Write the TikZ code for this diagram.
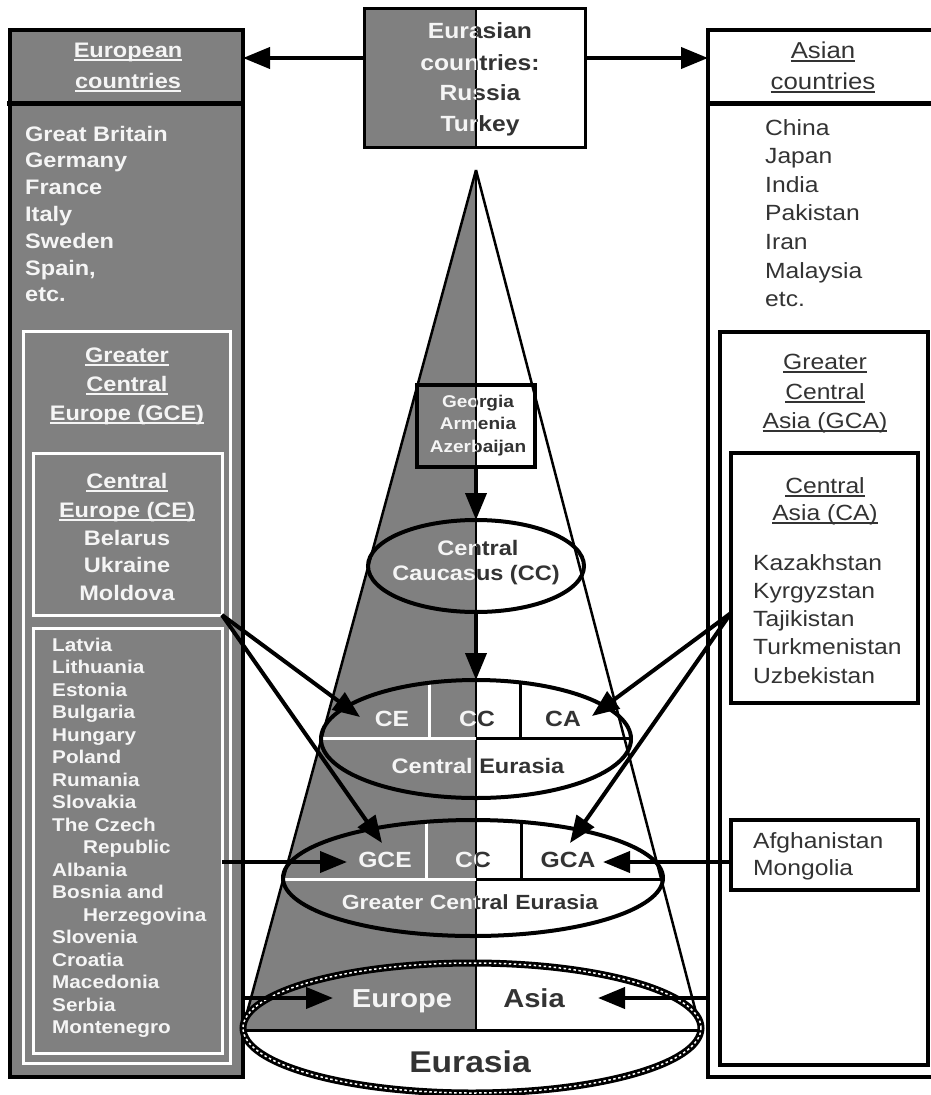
\documentclass[tikz,border=0pt]{standalone}
\usepackage{fontspec}
\setmainfont{Liberation Sans}[FakeStretch=1.12]
\usetikzlibrary{arrows.meta,shapes.geometric}
\definecolor{fillg}{gray}{0.5}
\definecolor{tw}{gray}{0.96}
\definecolor{td}{gray}{0.2}
\newcommand\ulx[1]{\setbox0\hbox{#1}\rlap{\rule[-3.8pt]{\wd0}{1.7pt}}\box0}
\newcommand\fB[1]{\bfseries\fontsize{#1}{#1}\selectfont}
\newcommand\fR[1]{\fontsize{#1}{#1}\selectfont}
\newcommand\splt[5]{%
 \begin{scope}\clip (0,0) rectangle (476,1095);
 \node[inner sep=0pt, anchor=base, text=tw, font={#4}] (#1w) at (#2,#3) {#5};\end{scope}
 \begin{scope}\clip (476,0) rectangle (930,1095);
 \node[inner sep=0pt, anchor=base, text=td, font={#4}] (#1d) at (#2,#3) {#5};\end{scope}}
\begin{document}
\begin{tikzpicture}[x=1pt,y=-1pt, line join=miter,
 box/.style={draw, line width=4pt, inner sep=0pt, outer sep=0pt, anchor=north west},
 wbox/.style={draw=white, line width=3pt, inner sep=0pt, outer sep=0pt, anchor=north west},
 ell/.style={ellipse, draw, line width=4pt, inner sep=0pt, outer sep=0pt},
 arr/.style={line width=4pt, -{Triangle[length=27pt,width=21pt]}},
 lw/.style={inner sep=0pt, text=tw, font=\fB{21}},
 ld/.style={inner sep=0pt, text=td, font=\fR{22}},
]
\fill[white] (0,0) rectangle (930,1095);
\useasboundingbox (0,0) rectangle (930,1095);
\coordinate (y58) at (0,58);
\coordinate (y613) at (0,613);
\coordinate (y862) at (0,862);
\coordinate (y998) at (0,998);

% left boxes
\node[box, fill=fillg, minimum width=233pt, minimum height=1047pt] (eur) at (10,30) {};
\draw[line width=5pt] (7,103) -- (243,103);
\node[wbox, minimum width=207pt, minimum height=732pt] (gceb) at (23,331) {};
\node[wbox, minimum width=189pt, minimum height=162pt] (ceb) at (33,453) {};
\node[wbox, minimum width=189pt, minimum height=425pt] (lst) at (33,628) {};

% right boxes
\node[box, fill=white, minimum width=235pt, minimum height=1047pt] (asi) at (708,30) {};
\draw[line width=5pt] (708,103) -- (940,103);
\node[box, minimum width=208pt, minimum height=733pt] (gcab) at (720,332) {};
\node[box, minimum width=187pt, minimum height=250pt] (cab) at (731,453) {};
\node[box, minimum width=187pt, minimum height=70pt] (afg) at (731,820) {};

% cone
\fill[fillg] (476,170) -- (242,1030) -- (476,1030) -- cycle;

% top box
\fill[fillg] (364,8) rectangle (476,147);
\node[box, line width=3pt, minimum width=221pt, minimum height=139pt] (eura) at (364,8) {};
\draw[line width=2.5pt] (476,8) -- (476,147);

% georgia box fill
\fill[fillg] (417,385) rectangle (476,467);
\fill[white] (476,385) rectangle (535,467);

% cone lines
\draw[line width=2.5pt] (476,170) -- (245,1020);
\draw[line width=2.5pt] (476,170) -- (698,1020);
\draw[line width=2.5pt] (476,170) -- (476,1030);

% dividers in Central Eurasia
\begin{scope}
\clip (476,739) ellipse [x radius=155pt, y radius=59pt];
\draw[white, line width=3pt] (429,670) -- (429,738);
\draw[line width=3pt] (520,670) -- (520,738);
\draw[white, line width=3pt] (300,738) -- (476,738);
\draw[line width=3pt] (476,738) -- (650,738);
\end{scope}
% dividers in Greater Central Eurasia
\begin{scope}
\clip (473,878) ellipse [x radius=190pt, y radius=58pt];
\draw[white, line width=3pt] (426,810) -- (426,879);
\draw[line width=3pt] (521,810) -- (521,879);
\draw[white, line width=3pt] (270,879) -- (476,879);
\draw[line width=3pt] (476,879) -- (680,879);
\end{scope}
\begin{scope}
\clip (472,1028) ellipse [x radius=229pt, y radius=65pt];
\draw[line width=3pt] (230,1030) -- (710,1030);
\end{scope}

% ellipses
\node[ell, minimum width=216pt, minimum height=92pt] (cc) at (476,566) {};
\node[ell, minimum width=310pt, minimum height=118pt] (ceu) at (476,739) {};
\node[ell, minimum width=380pt, minimum height=116pt] (gce) at (473,878) {};
\node[ell, line width=7pt, minimum width=458pt, minimum height=130pt] (eua) at (472,1028) {};
\draw[white, line width=1.5pt, dash pattern=on 2.5pt off 2.5pt] (472,1028) ellipse [x radius=229pt, y radius=65pt];

% georgia box
\node[box, minimum width=118pt, minimum height=82pt] (geo) at (417,385) {};

% target coordinates
\coordinate (tCE) at (360,717);
\coordinate (tGCE) at (382,843);
\coordinate (tCA) at (592,716);
\coordinate (tGCA) at (570,843);
\coordinate (tGCEh) at (347,862);
\coordinate (tGCAh) at (603,862);
\coordinate (tEu) at (333,998);
\coordinate (tAs) at (598,998);

% arrows
\draw[arr] (eura.west |- y58) -- (eur.east |- y58);
\draw[arr] (eura.east |- y58) -- (asi.west |- y58);
\draw[arr] (geo.south) -- (cc.north);
\draw[arr] (cc.south) -- (ceu.north);
\draw[arr] (ceb.south east) -- (tCE);
\draw[arr] (ceb.south east) -- (tGCE);
\draw[arr] (cab.west |- y613) -- (tCA);
\draw[arr] (cab.west |- y613) -- (tGCA);
\draw[arr] (lst.east |- y862) -- (tGCEh);
\draw[arr] (afg.west |- y862) -- (tGCAh);
\draw[arr] (eur.east |- y998) -- (tEu);
\draw[arr] (asi.west |- y998) -- (tAs);

% left texts
\node[lw, anchor=base] (eh1) at (128,57) {\ulx{European}};
\node[lw, anchor=base] (eh2) at (128,88) {\ulx{countries}};
\foreach \t [count=\i from 0] in {Great Britain,Germany,France,Italy,Sweden,{Spain,},etc.}
  \node[lw, anchor=base west] (eu\i) at (25,141+26.8*\i) {\t};
\node[lw, anchor=base] (g1) at (127,362) {\ulx{Greater}};
\node[lw, anchor=base] (g2) at (127,391) {\ulx{Central}};
\node[lw, anchor=base] (g3) at (127,420) {\ulx{Europe (GCE)}};
\node[lw, anchor=base] (c1) at (127,488) {\ulx{Central}};
\node[lw, anchor=base] (c2) at (127,517) {\ulx{Europe (CE)}};
\node[lw, anchor=base] (c3) at (127,545) {Belarus};
\node[lw, anchor=base] (c4) at (127,572) {Ukraine};
\node[lw, anchor=base] (c5) at (127,600) {Moldova};
\foreach \t/\dx [count=\i from 0] in {Latvia/0,Lithuania/0,Estonia/0,Bulgaria/0,Hungary/0,Poland/0,Rumania/0,Slovakia/0,The Czech/0,Republic/31,Albania/0,Bosnia and/0,Herzegovina/31,Slovenia/0,Croatia/0,Macedonia/0,Serbia/0,Montenegro/0}
  \node[lw, font=\fB{18.5}, anchor=base west] (ls\i) at (52+\dx,651+22.5*\i) {\t};

% right texts
\node[ld, font=\fR{23}, anchor=base] (ah1) at (823,58) {\ulx{Asian}};
\node[ld, font=\fR{23}, anchor=base] (ah2) at (823,89) {\ulx{countries}};
\foreach \t [count=\i from 0] in {China,Japan,India,Pakistan,Iran,Malaysia,etc.}
  \node[ld, anchor=base west] (as\i) at (765,135+28.6*\i) {\t};
\node[ld, anchor=base] (ga1) at (825,369) {\ulx{Greater}};
\node[ld, anchor=base] (ga2) at (825,399) {\ulx{Central}};
\node[ld, anchor=base] (ga3) at (825,428) {\ulx{Asia (GCA)}};
\node[ld, anchor=base] (ca1) at (825,493) {\ulx{Central}};
\node[ld, anchor=base] (ca2) at (825,520) {\ulx{Asia (CA)}};
\foreach \t [count=\i from 0] in {Kazakhstan,Kyrgyzstan,Tajikistan,Turkmenistan,Uzbekistan}
  \node[ld, anchor=base west] (ct\i) at (753,570+28.3*\i) {\t};
\node[ld, anchor=base west] (af1) at (753,848) {Afghanistan};
\node[ld, anchor=base west] (af2) at (753,875) {Mongolia};

% center texts
\splt{e1}{480}{38}{\fB{22}}{Eurasian}
\splt{e2}{480}{70}{\fB{22}}{countries:}
\splt{e3}{480}{100}{\fB{22}}{Russia}
\splt{e4}{480}{131}{\fB{22}}{Turkey}
\splt{ge1}{478}{407}{\fB{17}}{Georgia}
\splt{ge2}{478}{429}{\fB{17}}{Armenia}
\splt{ge3}{478}{452}{\fB{17}}{Azerbaijan}
\splt{cc1}{478}{555}{\fB{21}}{Central}
\splt{cc2}{476}{580}{\fB{21}}{Caucasus (CC)}
\splt{r1}{392}{726}{\fB{22}}{CE}
\splt{r2}{477}{726}{\fB{22}}{CC}
\splt{r3}{563}{726}{\fB{22}}{CA}
\splt{r4}{478}{773}{\fB{21}}{Central Eurasia}
\splt{s1}{385}{867}{\fB{22}}{GCE}
\splt{s2}{473}{867}{\fB{22}}{CC}
\splt{s3}{568}{867}{\fB{22}}{GCA}
\splt{s4}{470}{909}{\fB{20.5}}{Greater Central Eurasia}
\splt{b1}{402}{1007}{\fB{26}}{Europe}
\splt{b2}{534}{1007}{\fB{26}}{Asia}
\node[inner sep=0pt, anchor=base, text=td, font=\fB{30}] (b3) at (470,1072) {Eurasia};
\end{tikzpicture}
\end{document}
